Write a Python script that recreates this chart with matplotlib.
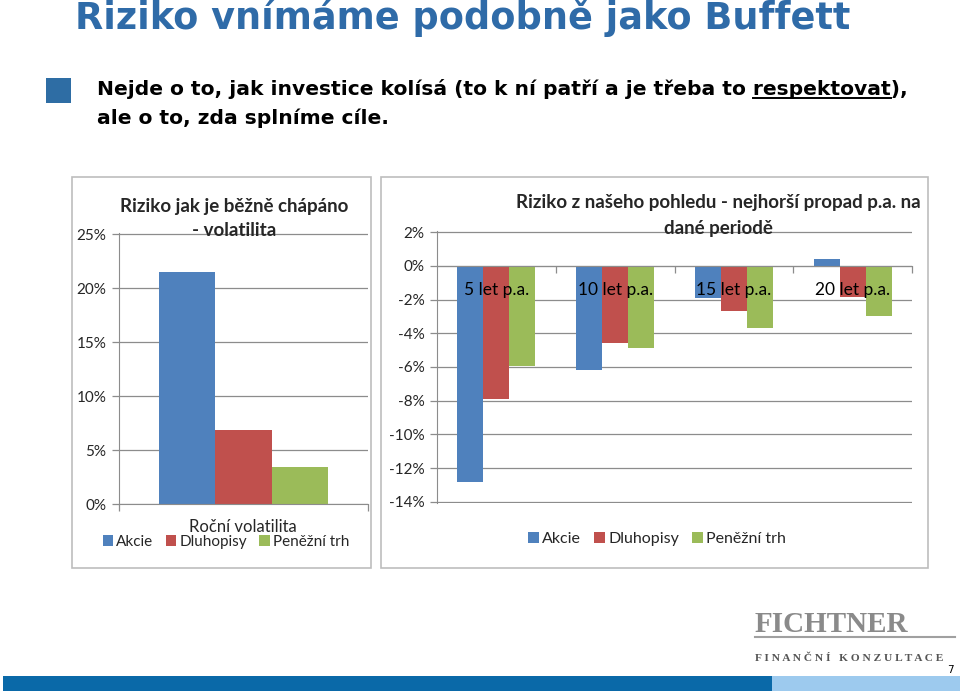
import matplotlib.pyplot as plt
from matplotlib.patches import Rectangle
from matplotlib.lines import Line2D

# data
series = ['Akcie', 'Dluhopisy', 'Peněžní trh']
colors = ['#4F81BD', '#C0504D', '#9BBB59']

vol_category = ['Roční volatilita']
volatility = [21.5, 6.9, 3.4]
vol_ticks = [0, 5, 10, 15, 20, 25]

periods = ['5 let p.a.', '10 let p.a.', '15 let p.a.', '20 let p.a.']
worst_akcie = [-12.8, -6.2, -1.9, 0.4]
worst_dluhopisy = [-7.9, -4.55, -2.7, -1.85]
worst_penezni = [-5.95, -4.85, -3.7, -2.95]
worst_ticks = [2, 0, -2, -4, -6, -8, -10, -12, -14]

W, H = 960, 691
fig = plt.figure(figsize=(W / 100, H / 100), dpi=100)


def fx(px):
    return px / W


def fy(py):
    return 1 - py / H


head_font = 'DejaVu Sans'
chart_font = 'Lato'
text_col = '#262626'
grid_col = '#8C8C8C'
bullet_size = 14.55

# slide header
fig.text(fx(75), fy(29), 'Riziko vnímáme podobně jako Buffett', color='#2F6BA8',
         fontsize=26.4, fontweight='bold', family=head_font, va='baseline')
fig.add_artist(Rectangle((fx(46), fy(103)), 25 / W, 25 / H, transform=fig.transFigure,
                         color='#2E6DA4', lw=0))
line1 = fig.text(fx(97), fy(95), 'Nejde o to, jak investice kolísá (to k ní patří a je třeba to respektovat),',
                 fontsize=bullet_size, fontweight='bold', family=head_font, va='baseline', color='black')
fig.text(fx(97), fy(124), 'ale o to, zda splníme cíle.',
         fontsize=bullet_size, fontweight='bold', family=head_font, va='baseline', color='black')

# underline "respektovat"
renderer = fig.canvas.get_renderer()
full = line1.get_window_extent(renderer)
tmp1 = fig.text(0, 0, 'respektovat),', fontsize=bullet_size, fontweight='bold', family=head_font)
tmp2 = fig.text(0, 0, '),', fontsize=bullet_size, fontweight='bold', family=head_font)
w_suf = tmp1.get_window_extent(renderer).width
w_end = tmp2.get_window_extent(renderer).width
tmp1.remove()
tmp2.remove()
u0 = full.x1 - w_suf
u1 = full.x1 - w_end
fig.add_artist(Line2D([u0 / W, u1 / W], [fy(98), fy(98)], transform=fig.transFigure,
                      color='black', lw=1.4))

# panel borders
for x0, x1 in [(72, 371), (381, 928)]:
    fig.add_artist(Rectangle((fx(x0), fy(568)), (x1 - x0) / W, (568 - 177) / H,
                             transform=fig.transFigure, fill=False, ec='#BDBDBD', lw=1.2))

# left chart
axL = fig.add_axes([fx(119), fy(504), (368 - 119) / W, (505 - 234) / H])
bw = 0.225
bars_left = []
for i, (name, val) in enumerate(zip(series, volatility)):
    b = axL.bar([(i - 1) * bw], [val], width=bw, color=colors[i], label=name)
    bars_left.append(b)
axL.set_xlim(-0.5, 0.5)
axL.set_ylim(0, 25.1)
axL.set_yticks(vol_ticks)
axL.set_yticklabels([f'{v}%' for v in vol_ticks])
axL.set_xticks([-0.5, 0.5])
axL.set_xticklabels([])
axL.yaxis.grid(True, color=grid_col, lw=0.9)
axL.set_axisbelow(True)
for s in ['top', 'right']:
    axL.spines[s].set_visible(False)
for s in ['left', 'bottom']:
    axL.spines[s].set_color(grid_col)
axL.tick_params(axis='both', colors=grid_col, length=5, width=0.9)
axL.tick_params(axis='y', labelcolor=text_col, labelsize=11, pad=4)
for lab in axL.get_yticklabels():
    lab.set_family(chart_font)

fig.text(fx(234), fy(212), 'Riziko jak je běžně chápáno', ha='center', va='baseline',
         fontsize=13.5, fontweight='bold', family=chart_font, color=text_col)
fig.text(fx(234), fy(236), '- volatilita', ha='center', va='baseline',
         fontsize=13.5, fontweight='bold', family=chart_font, color=text_col)
fig.text(fx(243), fy(527), vol_category[0], ha='center', va='center',
         fontsize=12, family=chart_font, color=text_col)
fig.legend(handles=[b[0] for b in bars_left], labels=series, loc='center',
           bbox_to_anchor=(fx(226), fy(542)), ncol=3, frameon=False,
           prop={'family': chart_font, 'size': 11}, handlelength=0.7, handleheight=0.7,
           handletextpad=0.2, columnspacing=0.8, labelcolor=text_col)

# right chart
axR = fig.add_axes([fx(437), fy(503), (912 - 437) / W, (503 - 231) / H])
bw = 0.219
xs = range(len(periods))
values = [worst_akcie, worst_dluhopisy, worst_penezni]
bars_right = []
for i, (name, vals) in enumerate(zip(series, values)):
    b = axR.bar([x + (i - 1) * bw for x in xs], vals, width=bw, color=colors[i], label=name)
    bars_right.append(b)
axR.set_xlim(-0.5, len(periods) - 0.5)
axR.set_ylim(-14.06, 2.06)
axR.set_yticks(worst_ticks)
axR.set_yticklabels([f'{v}%' for v in worst_ticks])
axR.yaxis.grid(True, color=grid_col, lw=0.9)
axR.set_axisbelow(True)
axR.xaxis.set_zorder(3)
for s in ['top', 'right']:
    axR.spines[s].set_visible(False)
axR.spines['bottom'].set_position(('data', 0))
for s in ['left', 'bottom']:
    axR.spines[s].set_color(grid_col)
axR.set_xticks([x + 0.5 for x in xs])
axR.set_xticklabels([])
axR.set_xticks(list(xs), minor=True)
axR.set_xticklabels(periods, minor=True)
axR.tick_params(axis='both', colors=grid_col, length=5, width=0.9)
axR.tick_params(axis='x', which='minor', length=0, pad=12, labelcolor='black', labelsize=12.5)
axR.tick_params(axis='y', labelcolor=text_col, labelsize=11, pad=4)
for lab in axR.get_yticklabels() + axR.get_xticklabels(minor=True):
    lab.set_family(chart_font)

fig.text(fx(718), fy(208), 'Riziko z našeho pohledu - nejhorší propad p.a. na', ha='center', va='baseline',
         fontsize=13.5, fontweight='bold', family=chart_font, color=text_col)
fig.text(fx(718), fy(234), 'dané periodě', ha='center', va='baseline',
         fontsize=13.5, fontweight='bold', family=chart_font, color=text_col)
fig.legend(handles=[b[0] for b in bars_right], labels=series, loc='center',
           bbox_to_anchor=(fx(657), fy(539)), ncol=3, frameon=False,
           prop={'family': chart_font, 'size': 11.5}, handlelength=0.7, handleheight=0.7,
           handletextpad=0.2, columnspacing=0.8, labelcolor=text_col)

# logo and footer
fig.text(fx(755), fy(632), 'FICHTNER', family='Liberation Serif', fontsize=21, fontweight='bold',
         color='#8A8A8A', va='baseline')
fig.add_artist(Line2D([fx(755), fx(955)], [fy(637), fy(637)], transform=fig.transFigure,
                      color='#A0A0A0', lw=1.5))
fig.text(fx(755), fy(661), 'F I N A N Č N Í   K O N Z U L T A C E', family='Liberation Serif',
         fontsize=8.2, fontweight='bold', color='#555555', va='baseline')
fig.text(fx(947), fy(673), '7', fontsize=7.5, color='black', va='baseline', family='DejaVu Sans')
fig.add_artist(Rectangle((fx(3), 0), (772 - 3) / W, 15 / H, transform=fig.transFigure,
                         color='#0A69A8', lw=0))
fig.add_artist(Rectangle((fx(772), 0), (W - 772) / W, 15 / H, transform=fig.transFigure,
                         color='#9DCAEE', lw=0))

fig.savefig('out.png', dpi=100)
